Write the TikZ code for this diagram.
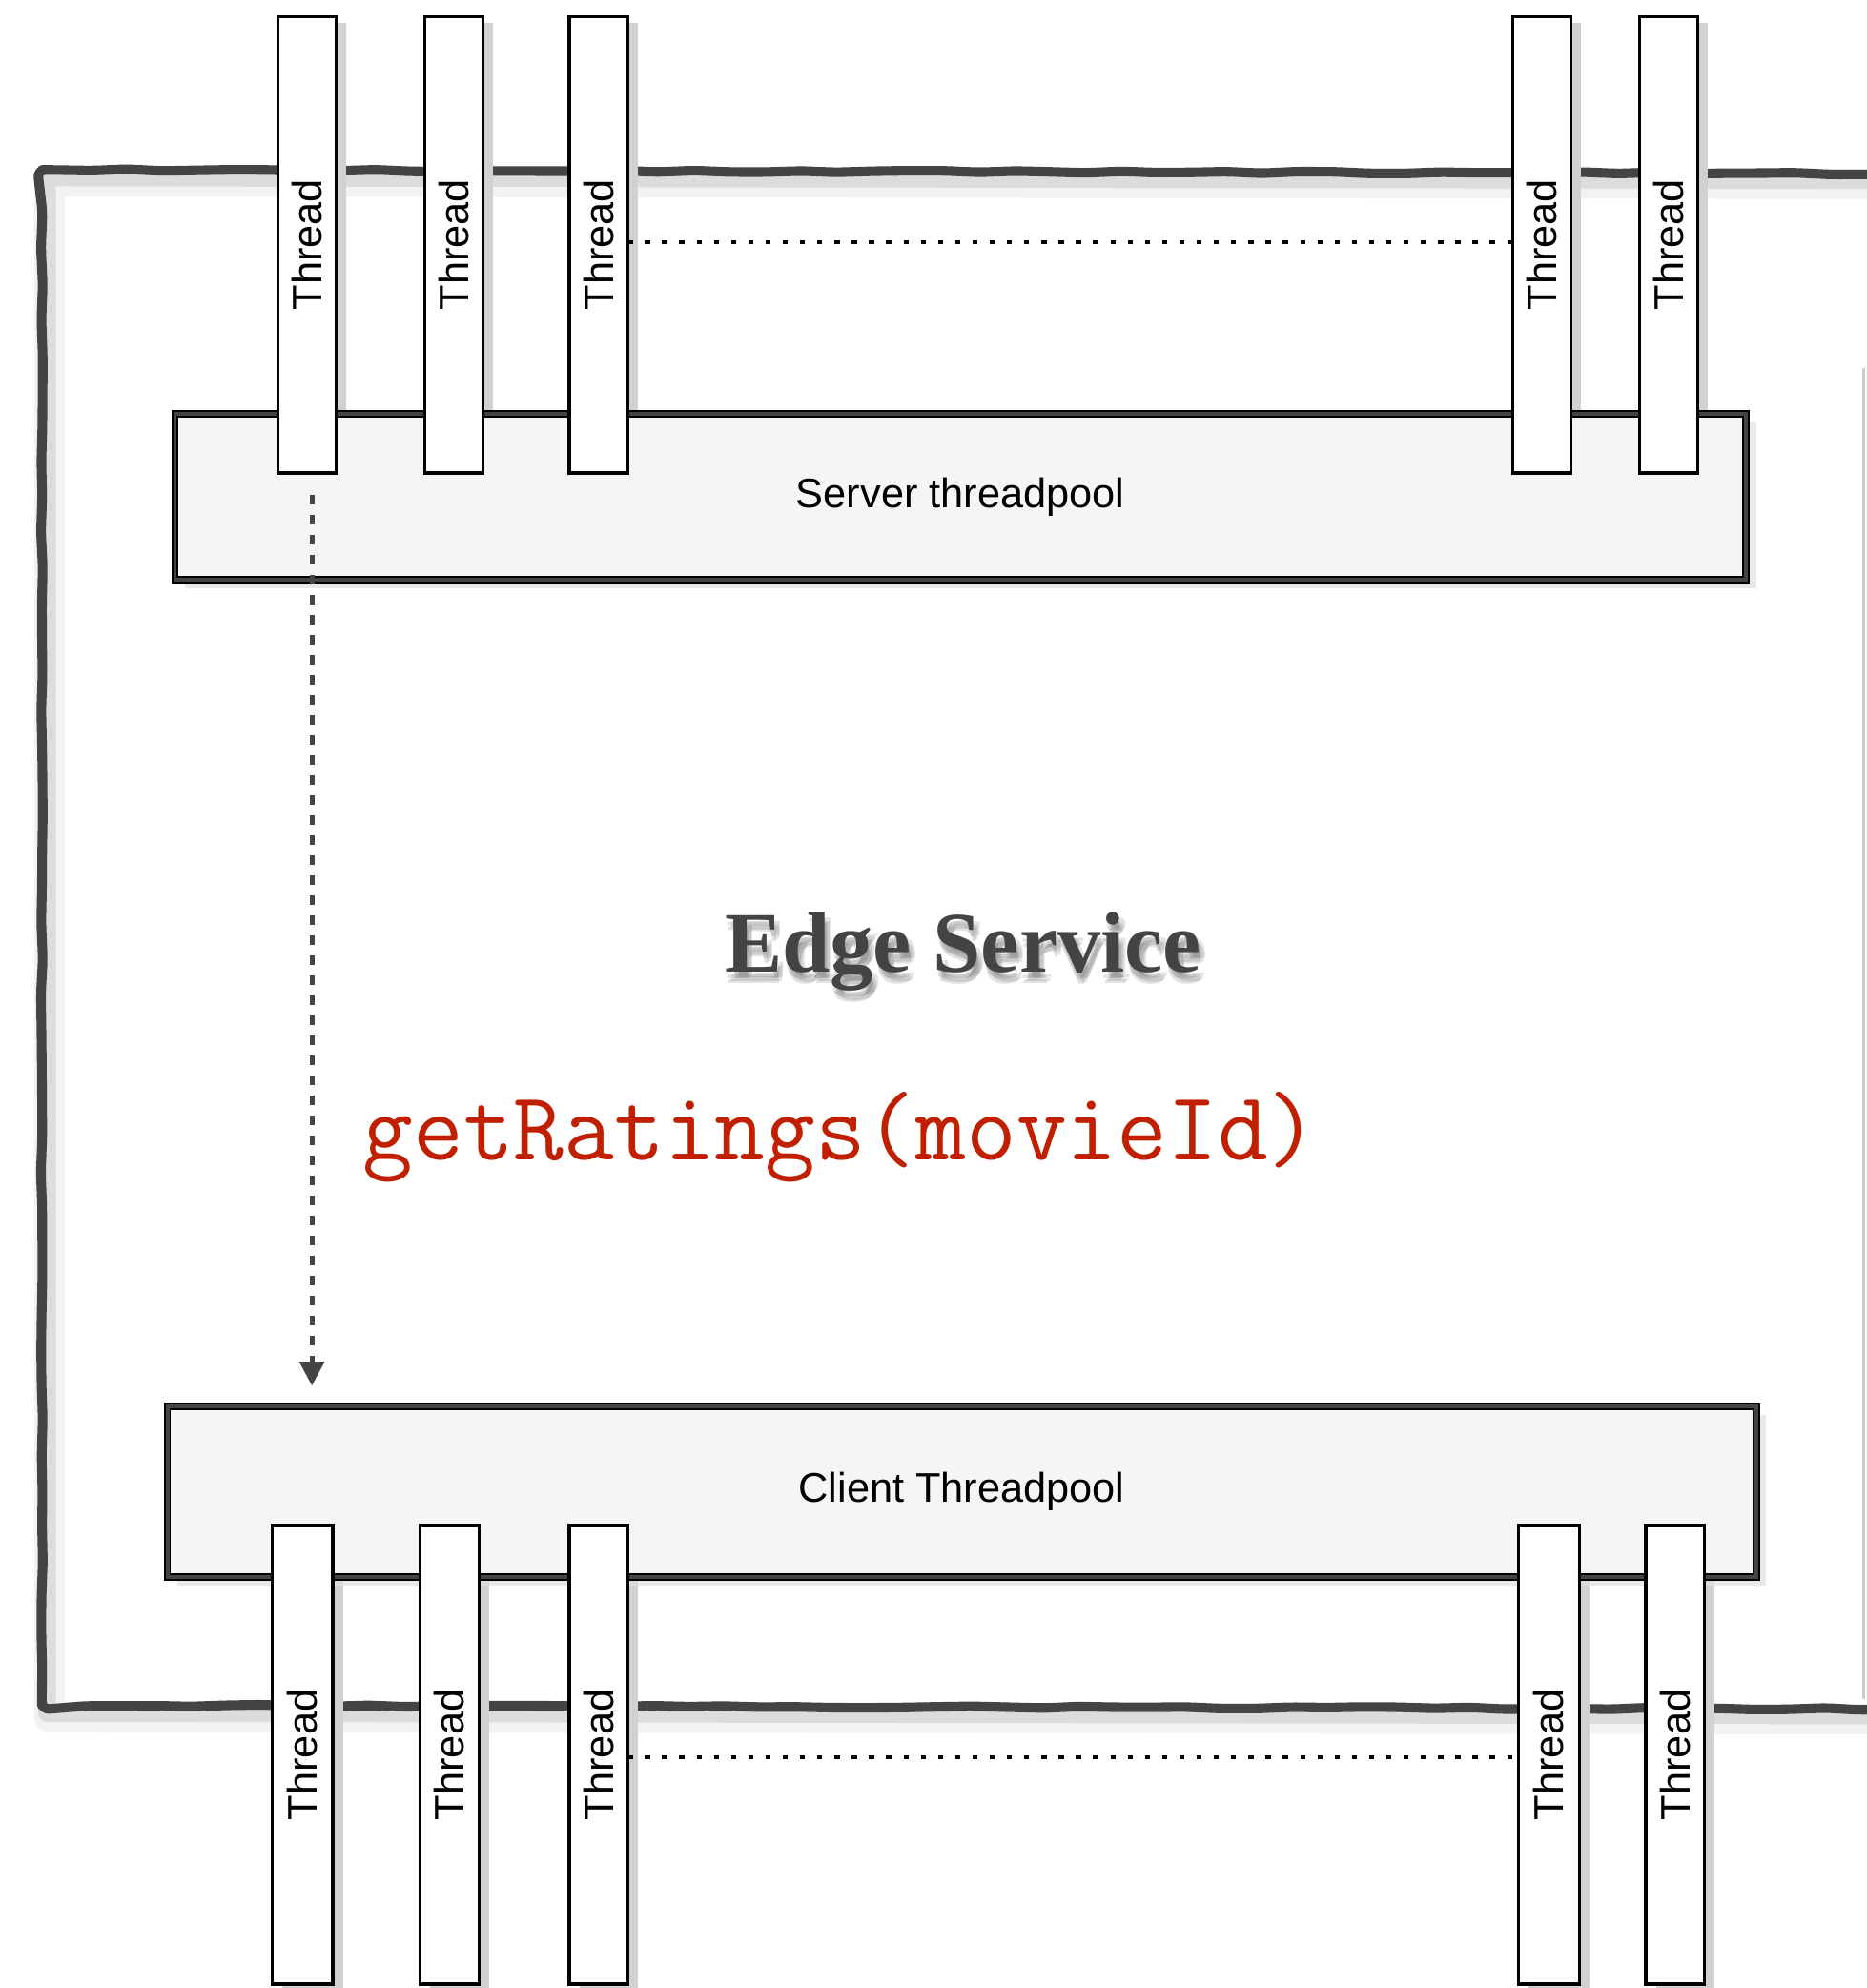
\documentclass[tikz,border=0pt]{standalone}
\usepackage{fontspec}
\setmainfont{Liberation Sans}
\newfontfamily\titlefont{Liberation Serif}
\usetikzlibrary{arrows.meta,decorations.pathmorphing,calc}

\definecolor{ink}{HTML}{444444}
\definecolor{codered}{HTML}{C02000}
\definecolor{poolfill}{HTML}{F5F5F5}

\pgfdeclarelayer{frame}
\pgfdeclarelayer{tshadow}
\pgfdeclarelayer{pools}
\pgfsetlayers{frame,tshadow,pools,main}

\tikzset{
  frameline/.style={draw=ink, line width=3.8pt, line join=round, line cap=round, rounded corners=3pt,
    decorate, decoration={random steps, segment length=14pt, amplitude=0.4pt}},
  frameshadow/.style={draw=black, opacity=0.09, line width=7pt, line join=round},
  thread/.style={draw=black, fill=white, line width=1.2pt, rotate=90,
    inner sep=0pt, outer sep=0pt, font=\fontsize{16.3}{19}\selectfont},
  threadshadow/.style={fill=black!18},
  pool/.style={draw=black, double=ink, double distance=1.5pt, line width=0.7pt,
    fill=poolfill, inner sep=0pt, outer sep=0pt, font=\fontsize{16.3}{19}\selectfont},
  poolshadow/.style={fill=black!12},
  gapline/.style={draw=black, line width=1.3pt, dash pattern=on 2pt off 4.8pt},
  flow/.style={draw=ink, line width=1.9pt, dash pattern=on 3.75pt off 4.15pt,
    -{Triangle[width=9.5pt,length=9.5pt]}},
  titletext/.style={font=\titlefont\bfseries\fontsize{34}{40}\selectfont, anchor=base, inner sep=0pt},
  codetext/.style={font=\ttfamily\fontsize{38.5}{46}\selectfont, text=codered, anchor=base, inner sep=0pt}
}

% one thread bar: name, centre x, centre y, width, length
\newcommand\poolthread[5]{%
  \begin{pgfonlayer}{tshadow}
    \fill[threadshadow] (#2-#4/2+8,#3-#5/2+5) rectangle (#2+#4/2+8,#3+#5/2+5);
  \end{pgfonlayer}
  \node[thread, minimum width=#5*0.5pt, minimum height=#4*0.5pt] (#1) at (#2,#3) {Thread};
}

\begin{document}
\begin{tikzpicture}[x=0.5pt,y=-0.5pt]
\useasboundingbox (0,0) rectangle (1472,1568);
\clip (0,0) rectangle (1472,1568);

% outer service frame, open to the right
\begin{pgfonlayer}{frame}
  \draw[frameshadow] (1500,142) -- (37,140) -- (37,1351) -- (1500,1353);
  \draw[frameshadow, opacity=0.05, line width=12pt] (1500,145) -- (39,143) -- (39,1354) -- (1500,1356);
  \draw[frameline] (1500,137) -- (33,134) -- (33,1345) -- (1500,1348);
  \draw[black!20, line width=1pt] (1470,290) -- (1470,1340);
\end{pgfonlayer}

% thread pools
\begin{pgfonlayer}{pools}
  \fill[poolshadow, opacity=0.7] (146,333) rectangle (1385,464);
  \node[pool, minimum width=1239*0.5pt, minimum height=131*0.5pt] (spool) at (757.5,392) {Server threadpool};
  \fill[poolshadow, opacity=0.7] (140,1116) rectangle (1393,1251);
  \node[pool, minimum width=1253*0.5pt, minimum height=135*0.5pt] (cpool) at (758.5,1176.5) {Client Threadpool};
\end{pgfonlayer}

% server side threads
\poolthread{s1}{242}{193}{46}{360}
\poolthread{s2}{358}{193}{46}{360}
\poolthread{s3}{472}{193}{46}{360}
\poolthread{s4}{1216}{193}{46}{360}
\poolthread{s5}{1316}{193}{46}{360}

% client side threads
\poolthread{c1}{238.5}{1384}{48}{362}
\poolthread{c2}{354.5}{1384}{47}{362}
\poolthread{c3}{472}{1384}{46}{362}
\poolthread{c4}{1221.5}{1384}{48}{362}
\poolthread{c5}{1321}{1384}{46}{362}

% elided threads
\draw[gapline] ([yshift=1pt]s3.south) -- ([yshift=1pt]s4.north);
\draw[gapline] ([yshift=-1pt]c3.south) -- ([yshift=-1pt]c4.north);

% labels, the title with a soft shadow
\foreach \dx/\dy [count=\i] in {1/5,4/7,2/9,5/4}
  \node[titletext, text=black, opacity=0.11] (tshade\i) at (759.5+\dx,767+\dy) {Edge Service};
\node[titletext, text=ink] (title) at (759.5,767) {Edge Service};
\node[codetext] (call) at (663,915) {getRatings(movieId)};

% request handed from the server thread to the client pool
\draw[flow] ($(s1.west)+(4,17)$) -- ($(s1.west |- cpool.north)+(4,-16)$);

\end{tikzpicture}
\end{document}
